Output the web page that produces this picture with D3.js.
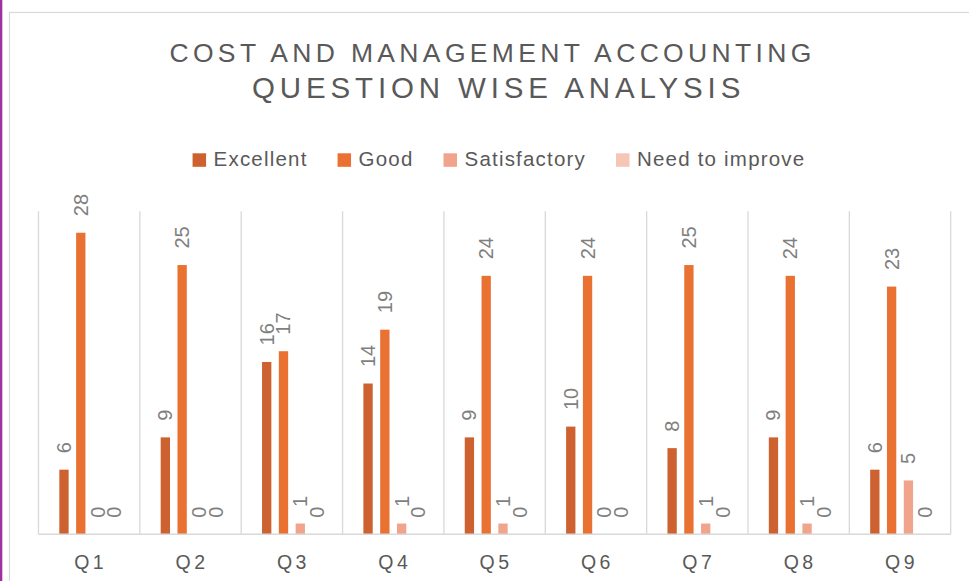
<!DOCTYPE html>
<html>
<head>
<meta charset="utf-8">
<script src="https://cdn.jsdelivr.net/npm/d3@7"></script>
<style>
  html, body { margin: 0; padding: 0; background: #ffffff; }
  svg { display: block; font-family: "Liberation Sans", Arial, sans-serif; }
</style>
</head>
<body>
<svg id="drawing_region"></svg>
<script>
// chart data
const categories = [ 'Q1', 'Q2', 'Q3', 'Q4', 'Q5', 'Q6', 'Q7', 'Q8', 'Q9' ];
const seriesNames = [ 'Excellent', 'Good', 'Satisfactory', 'Need to improve' ];
const excellent     = [ 6, 9, 16, 14, 9, 10, 8, 9, 6 ];
const good          = [ 28, 25, 17, 19, 24, 24, 25, 24, 23 ];
const satisfactory  = [ 0, 0, 1, 1, 1, 0, 1, 1, 5 ];
const needToImprove = [ 0, 0, 0, 0, 0, 0, 0, 0, 0 ];
const titleLines = [ 'COST AND MANAGEMENT ACCOUNTING', 'QUESTION WISE ANALYSIS' ];

const seriesValues = [ excellent, good, satisfactory, needToImprove ];
const colors = [ '#CD6130', '#E97132', '#F0A48C', '#F5C5B6' ];

const width = 969, height = 581;
const plot = { left: 38.5, right: 950.7, top: 211.2, bottom: 534.3 };

const svg = d3.select( '#drawing_region' )
    .attr( 'width', width )
    .attr( 'height', height );

// page decorations: purple edge and chart frame
svg.append( 'rect' )
    .attr( 'x', 0 ).attr( 'y', 0 )
    .attr( 'width', 2.3 ).attr( 'height', height )
    .attr( 'fill', '#A0309F' );

svg.append( 'rect' )
    .attr( 'x', 9.5 ).attr( 'y', 12.5 )
    .attr( 'width', width + 20 ).attr( 'height', height + 20 )
    .attr( 'fill', '#ffffff' )
    .attr( 'stroke', '#d9d9d9' )
    .attr( 'stroke-width', 1.2 );

const x0 = d3.scaleBand()
    .domain( categories )
    .range( [ plot.left, plot.right ] )
    .paddingInner( 0 )
    .paddingOuter( 0 );

const x1 = d3.scaleBand()
    .domain( seriesNames )
    .range( [ 0, x0.bandwidth() ] )
    .paddingInner( 0.446 )
    .paddingOuter( 1.24 );

const y = d3.scaleLinear()
    .domain( [ 0, 30 ] )
    .range( [ plot.bottom, plot.top ] );

// vertical gridlines between categories
const bounds = categories.map( c => x0( c ) ).concat( [ plot.right ] );
svg.append( 'g' )
    .selectAll( 'line' )
    .data( bounds )
    .enter()
    .append( 'line' )
    .attr( 'x1', d => d ).attr( 'x2', d => d )
    .attr( 'y1', plot.top ).attr( 'y2', plot.bottom )
    .attr( 'stroke', '#d9d9d9' )
    .attr( 'stroke-width', 1.3 );

// bars
const rows = [];
categories.forEach( ( c, i ) => {
    seriesNames.forEach( ( s, j ) => {
        rows.push( { cat: c, series: s, idx: j, value: seriesValues[ j ][ i ] } );
    } );
} );

svg.append( 'g' )
    .selectAll( 'rect' )
    .data( rows )
    .enter()
    .append( 'rect' )
    .attr( 'x', d => x0( d.cat ) + x1( d.series ) )
    .attr( 'y', d => y( d.value ) )
    .attr( 'width', x1.bandwidth() )
    .attr( 'height', d => y( 0 ) - y( d.value ) )
    .attr( 'fill', d => colors[ d.idx ] );

// baseline
svg.append( 'line' )
    .attr( 'x1', plot.left ).attr( 'x2', plot.right )
    .attr( 'y1', y( 0 ) ).attr( 'y2', y( 0 ) )
    .attr( 'stroke', '#d9d9d9' )
    .attr( 'stroke-width', 1.6 );

// value labels, rotated
svg.append( 'g' )
    .selectAll( 'text' )
    .data( rows )
    .enter()
    .append( 'text' )
    .attr( 'transform', d => {
        const cx = x0( d.cat ) + x1( d.series ) + x1.bandwidth() / 2;
        return `translate(${cx}, ${y( d.value ) - 16.5}) rotate(-90)`;
    } )
    .attr( 'dominant-baseline', 'central' )
    .style( 'font-size', '20px' )
    .attr( 'fill', '#7f7f7f' )
    .text( d => d.value );

// category labels
svg.append( 'g' )
    .selectAll( 'text' )
    .data( categories )
    .enter()
    .append( 'text' )
    .attr( 'x', d => x0( d ) + x0.bandwidth() / 2 + 1.5 )
    .attr( 'y', 569 )
    .attr( 'text-anchor', 'middle' )
    .style( 'font-size', '19.5px' )
    .style( 'letter-spacing', '3.5px' )
    .attr( 'fill', '#595959' )
    .text( d => d );

// title
const titleCenter = ( plot.left + plot.right ) / 2;
svg.append( 'text' )
    .attr( 'x', titleCenter - 2 )
    .attr( 'y', 62.3 )
    .attr( 'text-anchor', 'middle' )
    .style( 'font-size', '26.5px' )
    .style( 'letter-spacing', '4.35px' )
    .attr( 'fill', '#595959' )
    .text( titleLines[ 0 ] );

svg.append( 'text' )
    .attr( 'x', titleCenter + 4 )
    .attr( 'y', 97.7 )
    .attr( 'text-anchor', 'middle' )
    .style( 'font-size', '29.5px' )
    .style( 'letter-spacing', '4.86px' )
    .attr( 'fill', '#595959' )
    .text( titleLines[ 1 ] );

// legend
const legend = svg.append( 'g' );
const items = legend.selectAll( 'g' )
    .data( seriesNames )
    .enter()
    .append( 'g' );

items.append( 'rect' )
    .attr( 'width', 13.5 ).attr( 'height', 13.5 )
    .attr( 'y', 153.3 )
    .attr( 'fill', ( d, i ) => colors[ i ] );

items.append( 'text' )
    .attr( 'x', 21 )
    .attr( 'y', 165.7 )
    .style( 'font-size', '20.5px' )
    .style( 'letter-spacing', '1.2px' )
    .attr( 'fill', '#595959' )
    .text( d => d );

let cursor = 0;
const offsets = [];
items.each( function () {
    offsets.push( cursor );
    const w = d3.select( this ).select( 'text' ).node().getComputedTextLength();
    cursor += 21 + w + 30;
} );
const legendWidth = cursor - 30;
const legendStart = 499 - legendWidth / 2;
items.attr( 'transform', ( d, i ) => `translate(${legendStart + offsets[ i ]}, 0)` );
</script>
</body>
</html>
